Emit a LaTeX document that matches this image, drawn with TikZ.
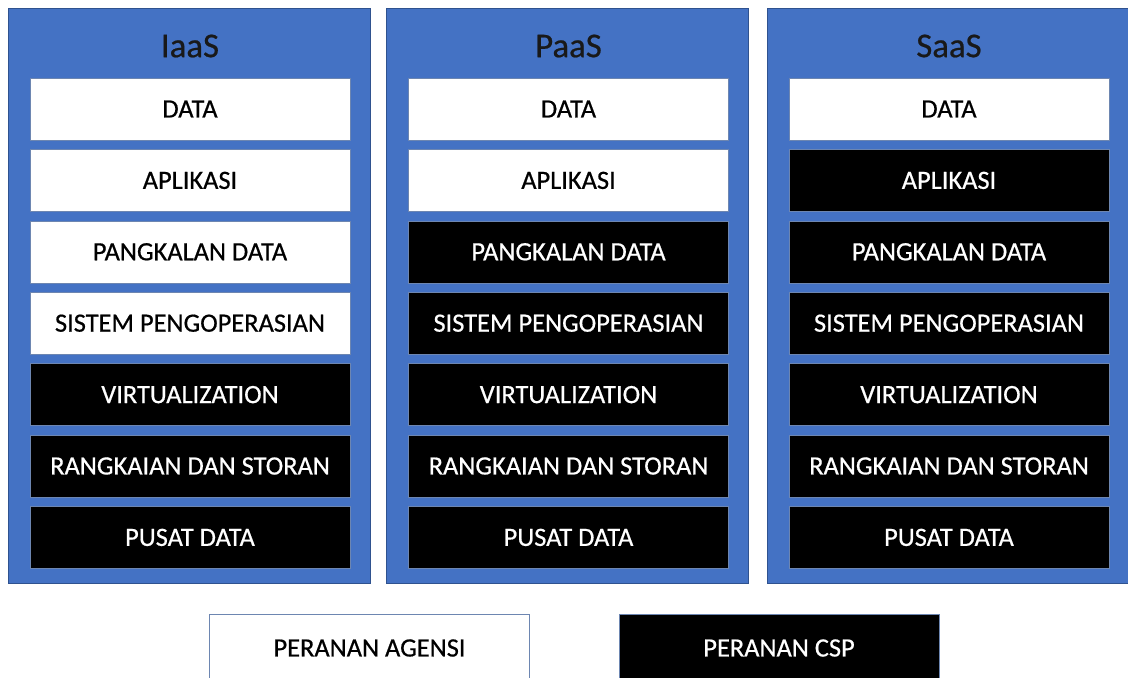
\documentclass[tikz,border=0pt]{standalone}
\usepackage{fontspec}
\setmainfont{Carlito}
\newfontfamily\rowfont{Carlito}[FakeBold=0.6]
\definecolor{panelblue}{HTML}{4472C4}
\definecolor{edgeblue}{HTML}{2F528F}
\tikzset{
  panel/.style={draw=edgeblue, fill=panelblue, line width=0.4pt, minimum width=181pt, minimum height=287.5pt, inner sep=0pt},
  title/.style={font=\rowfont\fontsize{17.4}{20}\selectfont, text=black!90},
  agency/.style={draw=edgeblue!70, line width=0.3pt, fill=white, text=black, minimum width=160pt, minimum height=31pt, inner sep=0pt, font=\rowfont\fontsize{13.2}{15}\selectfont},
  csp/.style={agency, fill=black, text=white}
}
\begin{document}
\begin{tikzpicture}[x=0.5pt, y=-0.5pt]
\useasboundingbox (0,0) rectangle (1128,677);
\clip (0,0) rectangle (1128,677);
\foreach \col/\cx/\name/\nw in {iaas/189/IaaS/4, paas/567.5/PaaS/2, saas/948/SaaS/1} {
  \node[panel] (\col) at (\cx,295.5) {};
  \node[title] (\col-title) at (\cx+1,46) {\name};
  \foreach \lbl [count=\i] in {DATA, APLIKASI, PANGKALAN DATA, SISTEM PENGOPERASIAN, VIRTUALIZATION, RANGKAIAN DAN STORAN, PUSAT DATA} {
    \ifnum\i>\nw \def\rowstyle{csp}\else\def\rowstyle{agency}\fi
    \node[\rowstyle] (\col-\i) at (\cx+1,109+71.4*\i-71.4) {\lbl};
  }
}
\node[agency, minimum height=34pt] (agensi) at (369.5,648) {PERANAN AGENSI};
\node[csp, minimum height=34pt] (csprole) at (779,648) {PERANAN CSP};
\end{tikzpicture}
\end{document}
